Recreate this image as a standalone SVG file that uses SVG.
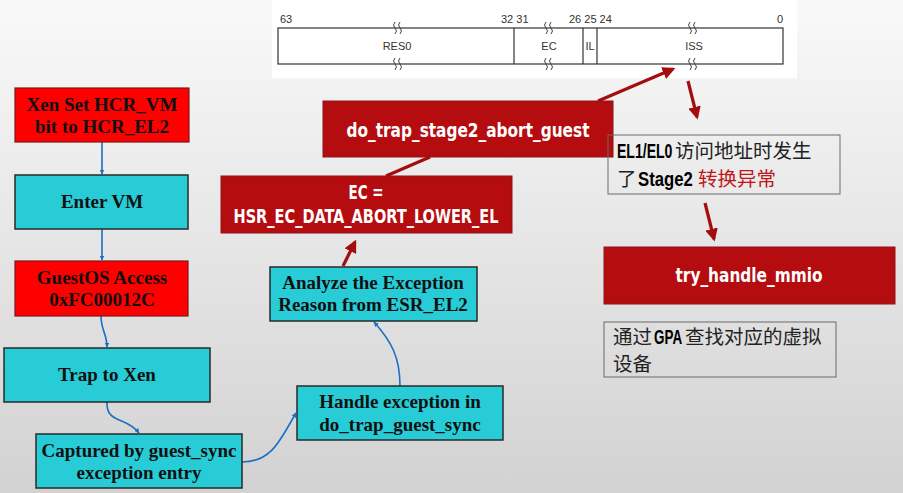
<svg xmlns="http://www.w3.org/2000/svg" width="903" height="493" viewBox="0 0 903 493">
<defs>
<linearGradient id="bg" x1="0" y1="0" x2="0" y2="1">
<stop offset="0" stop-color="#f9f9f9"/>
<stop offset="1" stop-color="#d2d2d2"/>
</linearGradient>
<marker id="ab" viewBox="0 0 10 10" refX="9" refY="5" markerWidth="5" markerHeight="5" orient="auto" markerUnits="userSpaceOnUse">
<path d="M0,0 L10,5 L0,10 z" fill="#1b70c2"/>
</marker>
<marker id="ar" viewBox="0 0 10 10" refX="8" refY="5" markerWidth="4" markerHeight="4" orient="auto">
<path d="M0,0 L10,5 L0,10 z" fill="#a30d0d"/>
</marker>
<style>
.serif{font-family:"Liberation Serif","Times New Roman",serif;font-weight:bold;font-size:19px;fill:#111;text-anchor:middle}
.cy{fill:#27ccd6;stroke:#2a2a2a;stroke-width:1.5}
.rd{fill:#ff0000;stroke:#7a1a1a;stroke-width:1.2}
.dr{fill:#b50c10;stroke:#8e1414;stroke-width:1}
.nar{font-family:"Liberation Sans Narrow","DejaVu Sans Condensed","Roboto Condensed","Liberation Sans",sans-serif;font-weight:bold;font-stretch:condensed;font-size:20px;fill:#fff;text-anchor:middle}
.blk{font-family:"Liberation Sans",Arial,sans-serif;font-weight:bold;font-size:20px;fill:#000}
.cjk{font-family:"Noto Sans CJK SC","Noto Sans",sans-serif;font-size:19.5px;fill:#222}
.reg{font-family:"Liberation Sans",Arial,sans-serif;font-size:11px;fill:#333}
.bl{fill:none;stroke:#1b70c2;stroke-width:1.6;marker-end:url(#ab)}
.rl{fill:none;stroke:#a30d0d;stroke-width:3.2}
.tb{fill:none;stroke:#6a6a6a;stroke-width:1}
</style>
</defs>
<rect width="903" height="493" fill="url(#bg)"/>

<g id="register">
<rect x="272" y="0" width="525" height="78" fill="#fff"/>
<rect x="278" y="28" width="505" height="36" fill="#fff" stroke="#333" stroke-width="1.2"/>
<line x1="514" y1="28" x2="514" y2="64" stroke="#333" stroke-width="1.2"/>
<line x1="583" y1="28" x2="583" y2="64" stroke="#333" stroke-width="1.2"/>
<line x1="597" y1="28" x2="597" y2="64" stroke="#333" stroke-width="1.2"/>
<g fill="none" stroke="#444" stroke-width="1">
<path d="M395,22 q-3,3 0,6 q3,3 0,6 M400,22 q-3,3 0,6 q3,3 0,6"/>
<path d="M395,58 q-3,3 0,6 q3,3 0,6 M400,58 q-3,3 0,6 q3,3 0,6"/>
<path d="M546,22 q-3,3 0,6 q3,3 0,6 M551,22 q-3,3 0,6 q3,3 0,6"/>
<path d="M546,58 q-3,3 0,6 q3,3 0,6 M551,58 q-3,3 0,6 q3,3 0,6"/>
<path d="M690,22 q-3,3 0,6 q3,3 0,6 M695,22 q-3,3 0,6 q3,3 0,6"/>
<path d="M690,58 q-3,3 0,6 q3,3 0,6 M695,58 q-3,3 0,6 q3,3 0,6"/>
</g>
<text class="reg" x="280" y="23">63</text>
<text class="reg" x="501" y="23">32 31</text>
<text class="reg" x="569" y="23">26 25 24</text>
<text class="reg" x="777" y="23">0</text>
<text class="reg" x="397" y="50" text-anchor="middle">RES0</text>
<text class="reg" x="549" y="50" text-anchor="middle">EC</text>
<text class="reg" x="590" y="50" text-anchor="middle">IL</text>
<text class="reg" x="694" y="50" text-anchor="middle">ISS</text>
</g>

<g id="connectors">
<line class="bl" x1="102" y1="142" x2="102" y2="174"/>
<line class="bl" x1="102" y1="229" x2="102" y2="260"/>
<path class="bl" d="M101,316 C101,330 107,334 107,347"/>
<path class="bl" d="M107,402 C106,424 126,416 139,433"/>
<path class="bl" d="M242,462 C272,462 280,440 296,413"/>
<path class="bl" d="M400,386 C400,358 392,342 374,322"/>
<line class="rl" x1="343" y1="266" x2="355" y2="242" marker-end="url(#ar)"/>
<line class="rl" x1="386" y1="176" x2="430" y2="157"/>
<line class="rl" x1="598" y1="101" x2="673" y2="69" marker-end="url(#ar)"/>
<line class="rl" x1="688" y1="81" x2="697" y2="117" marker-end="url(#ar)"/>
<line class="rl" x1="705" y1="203" x2="714" y2="239" marker-end="url(#ar)"/>
</g>

<g id="n1"><rect class="rd" x="15" y="88" width="174" height="54"/>
<text class="serif" x="102" y="111">Xen Set HCR_VM</text><text class="serif" x="102" y="133">bit to HCR_EL2</text></g>
<g id="n2"><rect class="cy" x="15" y="175" width="173" height="54"/>
<text class="serif" x="102" y="208">Enter VM</text></g>
<g id="n3"><rect class="rd" x="15" y="261" width="173" height="55"/>
<text class="serif" x="102" y="284">GuestOS Access</text><text class="serif" x="102" y="306">0xFC00012C</text></g>
<g id="n4"><rect class="cy" x="4" y="348" width="206" height="54"/>
<text class="serif" x="107" y="381">Trap to Xen</text></g>
<g id="n5"><rect class="cy" x="36" y="434" width="206" height="54"/>
<text class="serif" x="139" y="457">Captured by guest_sync</text><text class="serif" x="139" y="479">exception entry</text></g>
<g id="n6"><rect class="cy" x="297" y="386" width="206" height="54"/>
<text class="serif" x="400" y="408">Handle exception in</text><text class="serif" x="400" y="431">do_trap_guest_sync</text></g>
<g id="n7"><rect class="cy" x="270" y="267" width="207" height="54"/>
<text class="serif" x="373" y="289">Analyze the Exception</text><text class="serif" x="373" y="311">Reason from ESR_EL2</text></g>
<g id="n8"><rect class="dr" x="221" y="176" width="291" height="57"/>
<text class="nar" x="366" y="199" textLength="35" lengthAdjust="spacingAndGlyphs">EC =</text>
<text class="nar" x="366" y="223" textLength="265" lengthAdjust="spacingAndGlyphs">HSR_EC_DATA_ABORT_LOWER_EL</text></g>
<g id="n9"><rect class="dr" x="323" y="101" width="290" height="56"/>
<text class="nar" x="468" y="137" textLength="243" lengthAdjust="spacingAndGlyphs">do_trap_stage2_abort_guest</text></g>
<g id="n10"><rect class="tb" x="608" y="135" width="232" height="59"/>
<text class="blk" transform="translate(617,158) scale(0.72,1)" x="0" y="0" textLength="77" lengthAdjust="spacingAndGlyphs">EL1/EL0</text>
<text class="cjk" x="675" y="158">访问地址时发生</text>
<text class="cjk" x="617" y="186">了</text>
<text class="blk" transform="translate(638,186) scale(0.72,1)" x="0" y="0" textLength="76" lengthAdjust="spacingAndGlyphs">Stage2</text>
<text class="cjk" x="698" y="186" style="fill:#c0161a">转换异常</text></g>
<g id="n11"><rect class="dr" x="604" y="247" width="291" height="57"/>
<text class="nar" x="749" y="282" textLength="147" lengthAdjust="spacingAndGlyphs">try_handle_mmio</text></g>
<g id="n12"><rect class="tb" x="604" y="322" width="232" height="55"/>
<text class="cjk" x="613" y="344">通过</text>
<text class="blk" transform="translate(654,344) scale(0.72,1)" x="0" y="0" textLength="39" lengthAdjust="spacingAndGlyphs">GPA</text>
<text class="cjk" x="685" y="344">查找对应的虚拟</text>
<text class="cjk" x="613" y="371">设备</text></g>
</svg>
